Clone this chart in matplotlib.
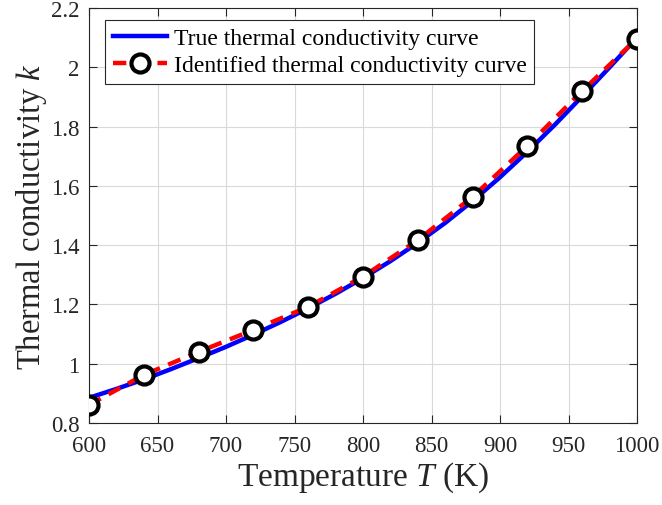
import numpy as np
import matplotlib
matplotlib.use("Agg")
import matplotlib.pyplot as plt
from matplotlib.ticker import FuncFormatter

plt.rcParams['font.family'] = ['Liberation Serif', 'DejaVu Serif']
plt.rcParams['mathtext.fontset'] = 'custom'
plt.rcParams['mathtext.rm'] = 'Liberation Serif'
plt.rcParams['mathtext.it'] = 'Liberation Serif:italic'

# true curve
T_true = [600, 620, 640, 660, 680, 700, 720, 740, 760, 780, 800,
          820, 840, 860, 880, 900, 920, 940, 960, 980, 1000]
k_true = [0.885, 0.915, 0.947, 0.982, 1.019, 1.057, 1.098, 1.141, 1.187, 1.236, 1.289,
          1.346, 1.408, 1.475, 1.549, 1.629, 1.715, 1.806, 1.902, 2.000, 2.100]

# identified points
T_id = [600, 640, 680, 720, 760, 800, 840, 880, 920, 960, 1000]
k_id = [0.861, 0.962, 1.040, 1.114, 1.192, 1.294, 1.417, 1.563, 1.735, 1.920, 2.097]

dark = '#262626'
fig = plt.figure(figsize=(6.62, 5.06), dpi=100)
ax = fig.add_axes([89/662, 1-424/506, (637-89)/662, (424-9)/506])

ax.plot(T_true, k_true, color='#0000ff', lw=3.2, label='True thermal conductivity curve', zorder=3)
ax.plot(T_id, k_id, color='#ff0000', lw=3.2, ls=(0, (3.0, 2.0)), marker='o', ms=13,
        mfc='white', mec='black', mew=3.0, label='Identified thermal conductivity curve', zorder=4)

ax.set_xlim(600, 1000)
ax.set_ylim(0.8, 2.2)
ax.set_xticks(np.arange(600, 1001, 50))
ax.set_yticks(np.arange(0.8, 2.21, 0.2))
ax.yaxis.set_major_formatter(FuncFormatter(lambda v, p: '%g' % round(v, 2)))
ax.grid(True, color='#d9d9d9', lw=0.8)
ax.set_axisbelow(True)
ax.tick_params(direction='in', top=True, right=True, length=6, width=0.8,
               labelsize=16.5, colors=dark)
ax.tick_params(axis='x', pad=9)
ax.tick_params(axis='y', pad=7)
for s in ax.spines.values():
    s.set_color(dark)
    s.set_linewidth(0.8)

ax.set_xlabel('Temperature $T$ (K)', fontsize=24, color=dark, labelpad=2)
ax.set_ylabel('Thermal conductivity $k$', fontsize=23.5, color=dark, labelpad=1)

leg = ax.legend(loc='upper left', bbox_to_anchor=(0.03, 0.97), fontsize=17,
                fancybox=False, framealpha=1, edgecolor=dark, handlelength=2.3,
                handletextpad=0.3, borderpad=0.3, labelspacing=0.25, borderaxespad=0)
leg.get_frame().set_linewidth(0.8)

fig.savefig('out.png', dpi=100)
